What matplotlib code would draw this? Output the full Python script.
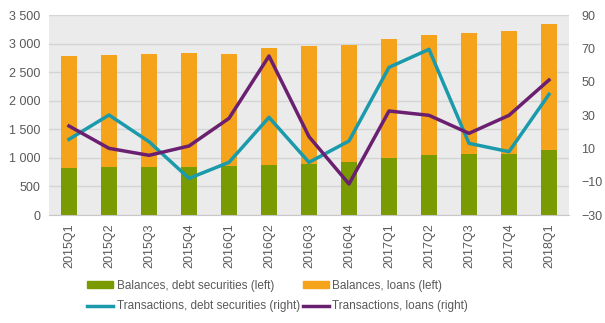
import matplotlib
matplotlib.use("Agg")
import matplotlib.pyplot as plt
from matplotlib.ticker import FuncFormatter, MultipleLocator
from matplotlib.patches import Patch
from matplotlib.lines import Line2D
import numpy as np

quarters = ["2015Q1", "2015Q2", "2015Q3", "2015Q4", "2016Q1", "2016Q2", "2016Q3",
            "2016Q4", "2017Q1", "2017Q2", "2017Q3", "2017Q4", "2018Q1"]
bal_debt = [822, 840, 840, 840, 857, 875, 892, 927, 997, 1050, 1067, 1067, 1137]
bal_total = [2782, 2800, 2817, 2835, 2817, 2922, 2957, 2975, 3080, 3150, 3185, 3220, 3342]
bal_loans = [t - d for t, d in zip(bal_total, bal_debt)]
tr_debt = [15.4, 30, 14, -8, 1.6, 28.6, 1.6, 14.4, 58.6, 69.4, 13, 8, 42.4]
tr_loans = [23.4, 10, 5.8, 11.4, 28, 65.4, 17, -11.4, 32.4, 29.8, 19, 29.8, 51]
right_ticks = [-30, -10, 10, 30, 50, 70, 90]

GREEN = "#7a9a01"
ORANGE = "#f5a31a"
CYAN = "#1a9aab"
PURPLE = "#6b1f70"
TXT = "#595959"

plt.rcParams["font.family"] = ["Liberation Sans", "DejaVu Sans"]

fig = plt.figure(figsize=(6.05, 3.23), dpi=100)
ax = fig.add_axes([49 / 605, 1 - 215 / 323, (569 - 49) / 605, 200 / 323])
ax.set_facecolor("#ebebeb")
x = np.arange(len(quarters))

ax.bar(x, bal_debt, width=0.4, color=GREEN, zorder=2)
ax.bar(x, bal_loans, bottom=bal_debt, width=0.4, color=ORANGE, zorder=2)
ax.set_ylim(0, 3500)
ax.set_xlim(-0.5, len(quarters) - 0.5)
ax.yaxis.set_major_locator(MultipleLocator(500))
ax.yaxis.set_major_formatter(FuncFormatter(lambda v, p: f"{int(v):,}".replace(",", " ")))
ax.grid(axis="y", color="#d4d4d4", linewidth=1, zorder=1)
ax.set_axisbelow(True)
for s in ["top", "right", "left"]:
    ax.spines[s].set_visible(False)
ax.spines["bottom"].set_color("#c8c8c8")
ax.set_xticks(x)
ax.set_xticklabels(quarters, rotation=90)
ax.tick_params(axis="both", length=0, labelsize=9, colors=TXT, pad=6)

ax2 = ax.twinx()
ax2.plot(x, tr_debt, color=CYAN, linewidth=2.5, zorder=3)
ax2.plot(x, tr_loans, color=PURPLE, linewidth=2.5, zorder=3)
ax2.set_ylim(-30, 90)
ax2.set_yticks(right_ticks)
for s in ["top", "right", "left", "bottom"]:
    ax2.spines[s].set_visible(False)
ax2.tick_params(axis="y", length=0, labelsize=9, colors=TXT, pad=9)

handles = [Patch(color=GREEN), Patch(color=ORANGE),
           Line2D([], [], color=CYAN, linewidth=2.5), Line2D([], [], color=PURPLE, linewidth=2.5)]
labels = ["Balances, debt securities (left)", "Balances, loans (left)",
          "Transactions, debt securities (right)", "Transactions, loans (right)"]
# order so that row 1 holds the balances, row 2 the transactions
order = [0, 2, 1, 3]
fig.legend([handles[i] for i in order], [labels[i] for i in order], ncol=2,
           loc="upper left", bbox_to_anchor=(87 / 605, 1 - 280 / 323), frameon=False,
           fontsize=8.5, labelcolor=TXT, handlelength=2.2, handleheight=0.5,
           handletextpad=0.3, columnspacing=0.25, borderaxespad=0, borderpad=0,
           labelspacing=0.72)

fig.savefig("out.png", dpi=100)
